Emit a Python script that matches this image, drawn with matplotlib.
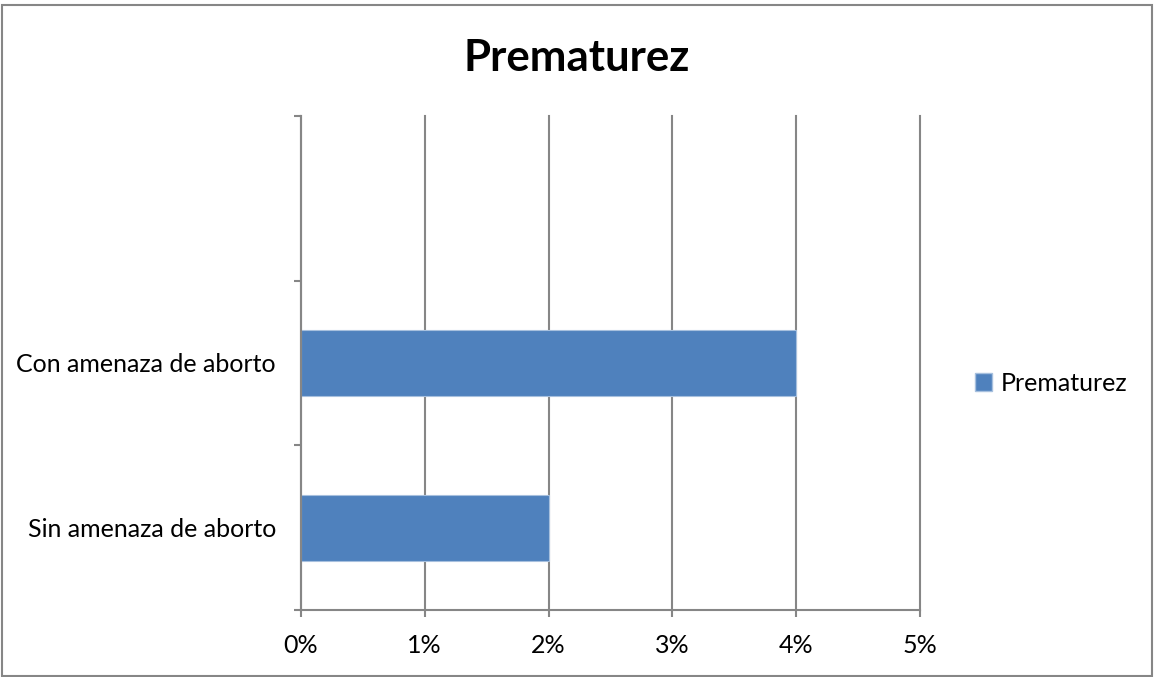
import numpy as np
import matplotlib
matplotlib.use("Agg")
import matplotlib.pyplot as plt
from matplotlib.patches import Rectangle, Patch
from matplotlib.ticker import FuncFormatter

plt.rcParams['font.family'] = ['Lato', 'DejaVu Sans']

# data
categorias = ["Sin amenaza de aborto", "Con amenaza de aborto", ""]
valores = [0.02, 0.04, np.nan]
serie = "Prematurez"
titulo = "Prematurez"

azul = "#4F81BD"
gris = "#868686"

fig = plt.figure(figsize=(11.54, 6.77), dpi=100)
ax = fig.add_axes([0.2608, 0.099, 0.5364, 0.7297])

pos = np.arange(len(categorias))
ax.barh(pos, valores, height=0.4, color=azul, edgecolor="#A7C0DE", linewidth=0.8, zorder=3)

ax.set_xlim(0, 0.05)
ax.set_ylim(-0.5, len(categorias) - 0.5)
ax.set_xticks(np.arange(0, 0.051, 0.01))
ax.xaxis.set_major_formatter(FuncFormatter(lambda v, p: f"{v*100:.0f}%"))

# category labels sit between the boundary ticks
ax.set_yticks(np.arange(-0.5, len(categorias), 1.0))
ax.set_yticklabels([])
ax.set_yticks(pos, minor=True)
ax.set_yticklabels(categorias, minor=True)
ax.tick_params(axis='y', which='minor', length=0, pad=18, labelsize=18)
ax.tick_params(axis='y', which='major', length=5, width=1.5, color=gris)
ax.tick_params(axis='x', length=5, width=1.5, color=gris, pad=12, labelsize=18)

ax.grid(axis='x', color=gris, linewidth=1.5, zorder=0)
for gl in ax.get_xgridlines():
    gl.set_clip_on(False)
ax.set_axisbelow(True)
for s in ['top', 'right']:
    ax.spines[s].set_visible(False)
for s in ['left', 'bottom']:
    ax.spines[s].set_color(gris)
    ax.spines[s].set_linewidth(1.5)
    ax.spines[s].set_zorder(4)

fig.text(0.5, 0.915, titulo, ha='center', va='center', fontsize=31.5, fontweight='bold')

fig.legend(handles=[Patch(facecolor=azul, edgecolor="#A7C0DE", label=serie)],
           loc='center left', bbox_to_anchor=(0.825, 0.434), frameon=False,
           fontsize=18, handlelength=0.7, handleheight=0.7, handletextpad=0.35)

fig.patches.append(Rectangle((0.0015, 0.0015), 0.997, 0.9905, transform=fig.transFigure,
                             fill=False, edgecolor=gris, linewidth=1.5))

fig.savefig("out.png", dpi=100)
